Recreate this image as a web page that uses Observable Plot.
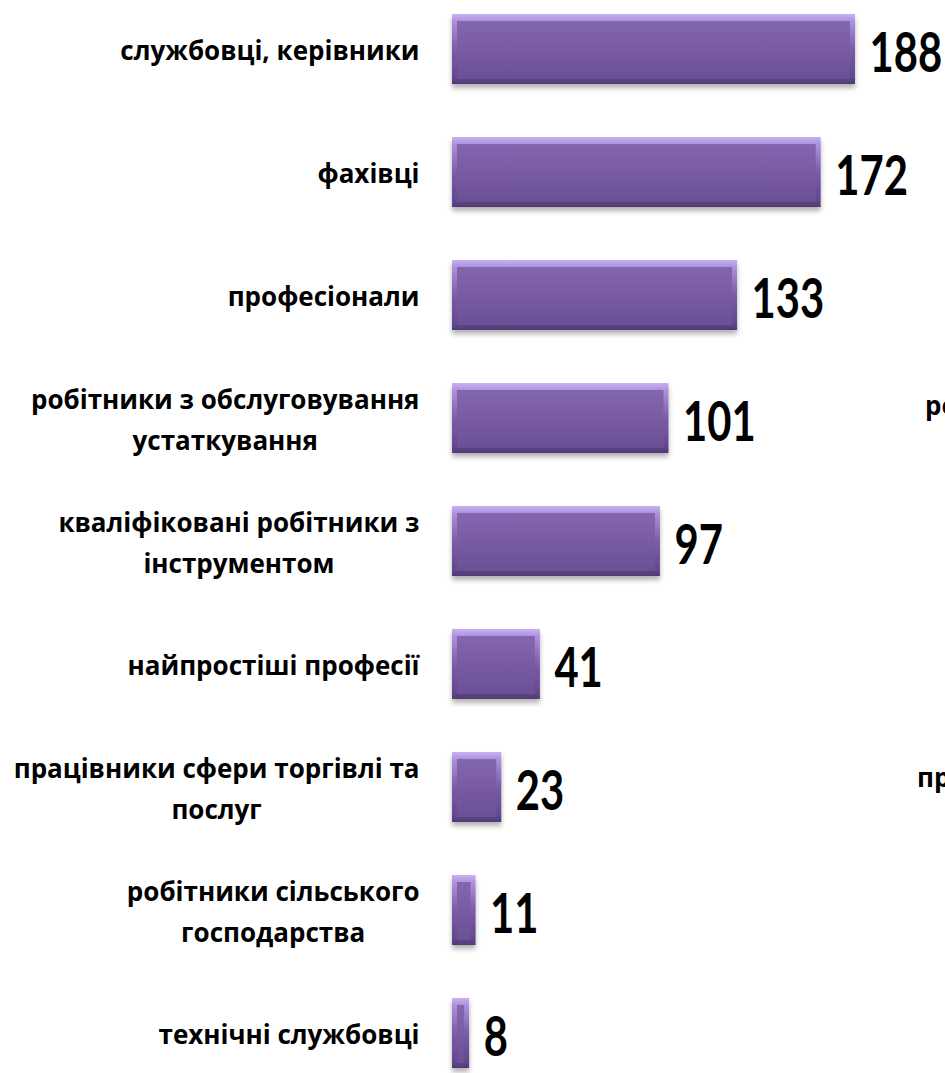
<!DOCTYPE html>
<html><head><meta charset="utf-8">
<script src="https://cdn.jsdelivr.net/npm/d3@7"></script>
<script src="https://cdn.jsdelivr.net/npm/@observablehq/plot@0.6"></script>
<style>
body{margin:0;background:#fff;}
#wrap{position:relative;width:945px;height:1073px;overflow:hidden;background:#fff;}
.edge{position:absolute;font-family:"Open Sans";font-weight:700;font-size:26px;white-space:nowrap;line-height:1;color:#000;}
</style></head><body><div id="wrap"></div>
<script>
const categories = [
  "службовці, керівники",
  "фахівці",
  "професіонали",
  "робітники з обслуговування\nустаткування",
  "кваліфіковані робітники з\nінструментом",
  "найпростіші професії",
  "працівники сфери торгівлі та\nпослуг",
  "робітники сільського\nгосподарства",
  "технічні службовці"
];
const values = [188, 172, 133, 101, 97, 41, 23, 11, 8];
const neighborLabels = ["робітники з обслуговування", "працівники сфери торгівлі та"];

const data = categories.map((c, i) => ({category: c, value: values[i]}));
const ns = "http://www.w3.org/2000/svg";

const defsMark = () => {
  const d = document.createElementNS(ns, "defs");
  d.innerHTML = `
    <linearGradient id="outerGrad" x1="0" y1="0" x2="0" y2="1">
      <stop offset="0" stop-color="#c9b0f2"/>
      <stop offset="0.1" stop-color="#ae92dc"/>
      <stop offset="0.5" stop-color="#7a5da6"/>
      <stop offset="0.9" stop-color="#634890"/>
      <stop offset="1" stop-color="#503a72"/>
    </linearGradient>
    <linearGradient id="innerGrad" x1="0" y1="0" x2="0" y2="1">
      <stop offset="0" stop-color="#8366b0"/>
      <stop offset="1" stop-color="#6c5095"/>
    </linearGradient>
    <filter id="shadow" x="-20%" y="-20%" width="140%" height="160%">
      <feDropShadow dx="0" dy="4" stdDeviation="2.5" flood-color="#000" flood-opacity="0.3"/>
    </filter>`;
  return d;
};

const chart = Plot.plot({
  width: 945,
  height: 1073,
  marginTop: 0, marginBottom: 0, marginLeft: 0, marginRight: 0,
  x: {domain: [0, 188], range: [452, 855], axis: null},
  y: {domain: categories, range: [11, 1072], paddingInner: 0.43, paddingOuter: 0, axis: null},
  marks: [
    defsMark,
    Plot.barX(data, {x: "value", y: "category", fill: "url(#outerGrad)"}),
    Plot.barX(data, {x: "value", y: "category", fill: "url(#innerGrad)",
      insetTop: 7, insetBottom: 5, insetLeft: 5, insetRight: 5}),
    Plot.text(data, {x: 0, y: "category", text: "category", dx: -33, dy: -2, textAnchor: "end",
      fontFamily: "Open Sans", fontWeight: 700, fontSize: 26, lineHeight: 1.55, fill: "#000"}),
    Plot.text(data, {x: "value", y: "category", text: d => String(d.value), dx: 14, dy: 5, textAnchor: "start",
      fontFamily: "Lato", fontWeight: 700, fontSize: 55, fill: "#000"})
  ]
});

const wrap = document.getElementById("wrap");
wrap.appendChild(chart);

function addTransform(el, extra) {
  let t = el.getAttribute("transform");
  if (!t) {
    const x = +el.getAttribute("x") || 0, y = +el.getAttribute("y") || 0;
    el.removeAttribute("x"); el.removeAttribute("y");
    t = `translate(${x},${y})`;
  }
  el.setAttribute("transform", t + " " + extra);
}

chart.querySelectorAll('g[fill="url(#outerGrad)"]').forEach(g => g.setAttribute("filter", "url(#shadow)"));

chart.querySelectorAll("text").forEach(el => {
  const txt = el.textContent.trim();
  if (/^\d+$/.test(txt)) {
    addTransform(el, "scale(0.76,1)");
  } else if (el.querySelectorAll("tspan").length > 1) {
    const w = el.getBBox().width;
    el.setAttribute("text-anchor", "middle");
    el.style.textAnchor = "middle";
    addTransform(el, `translate(${-w / 2},0)`);
  }
});

// clipped labels of the neighbouring chart at the right edge
const edgePos = [[925, 392], [917, 764]];
neighborLabels.forEach((t, i) => {
  const s = document.createElement("span");
  s.className = "edge";
  s.textContent = t;
  s.style.left = edgePos[i][0] + "px";
  s.style.top = edgePos[i][1] + "px";
  wrap.appendChild(s);
});
</script></body></html>
